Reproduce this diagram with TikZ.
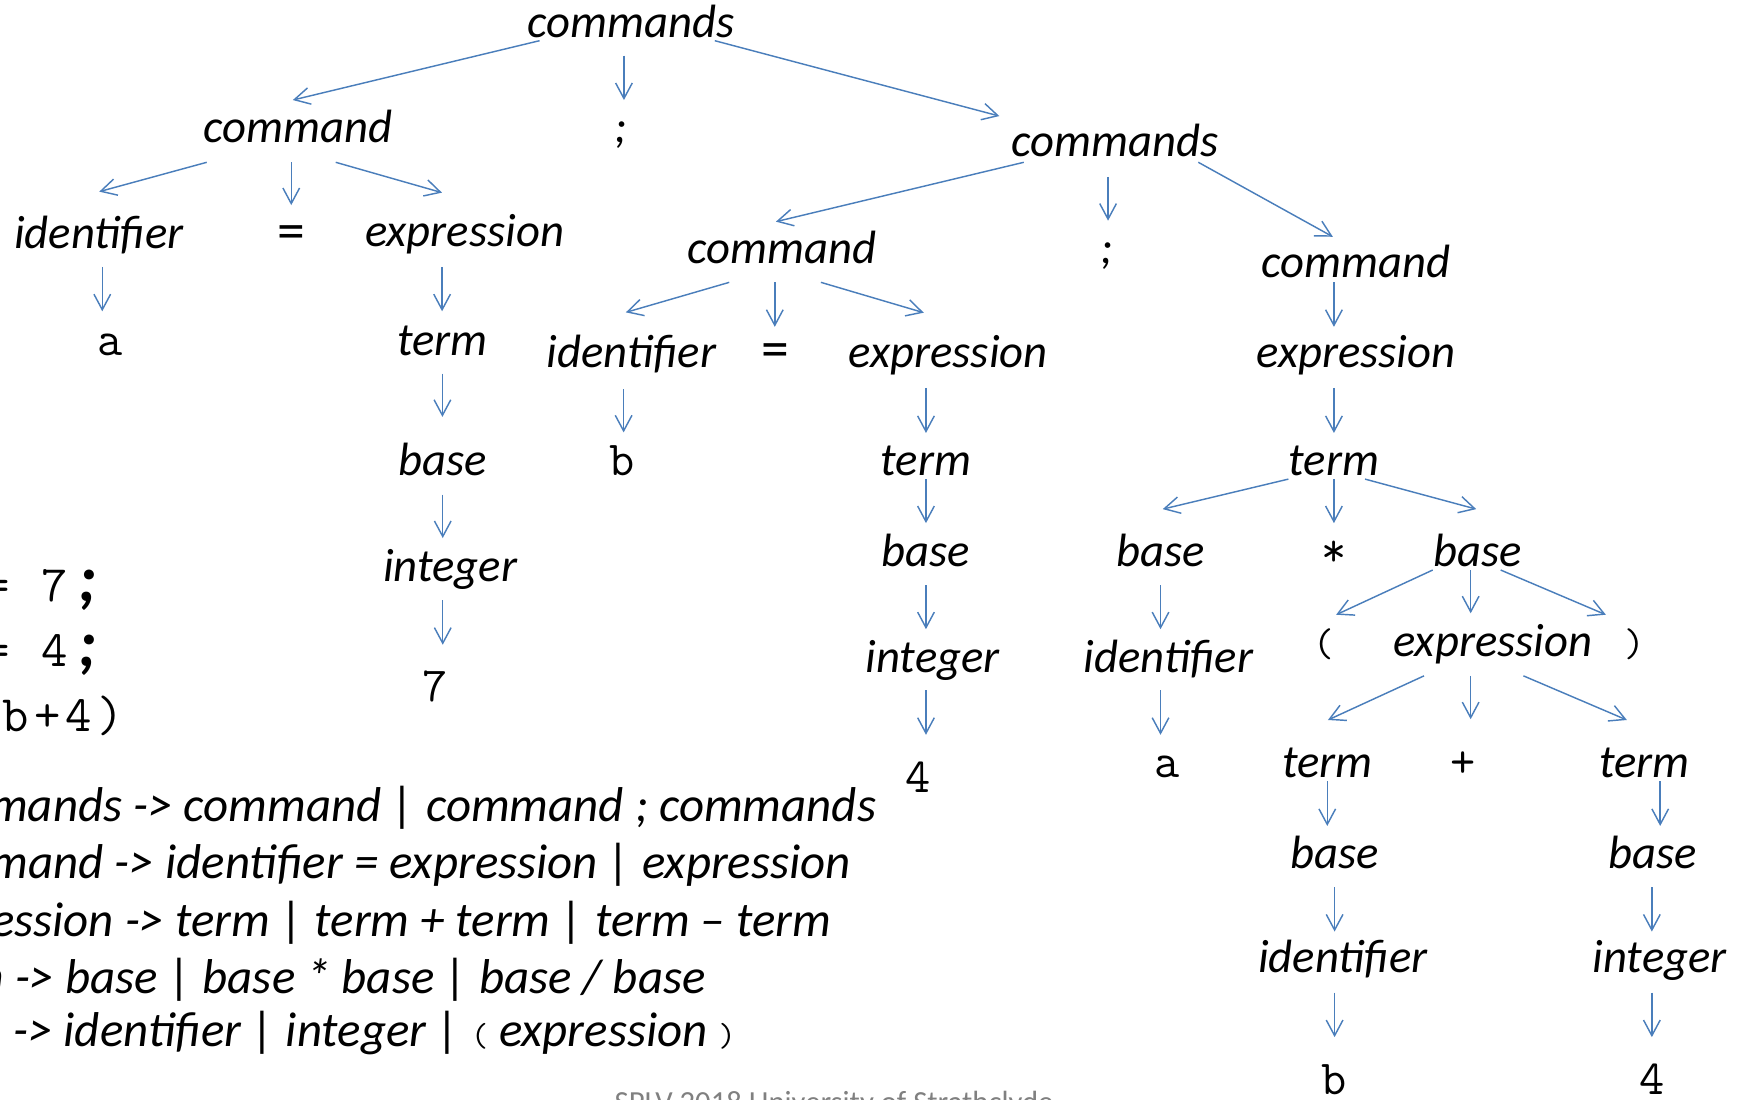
\documentclass[tikz,border=0pt]{standalone}
\usepackage{fontspec}
\setmainfont{Carlito}
\setmonofont{Latin Modern Mono}
\usetikzlibrary{arrows.meta}
\definecolor{arrblue}{RGB}{74,126,187}
\tikzset{
  lbl/.style={inner sep=0pt, outer sep=0pt, anchor=base, font=\fontsize{42}{50}\selectfont\itshape},
  sym/.style={inner sep=0pt, outer sep=0pt, anchor=base, font=\fontsize{50}{56}\selectfont},
  mono/.style={inner sep=0pt, outer sep=0pt, anchor=base, font=\fontsize{44}{50}\selectfont\ttfamily},
  paren/.style={inner sep=0pt, outer sep=0pt, anchor=base, font=\fontsize{36}{40}\selectfont\ttfamily},
  arr/.style={draw=arrblue, line width=1.3pt, -{Straight Barb[length=14pt,width=15pt]}},
  gram/.style={inner sep=0pt, outer sep=0pt, anchor=base west, font=\fontsize{44}{50}\selectfont\itshape},
  code/.style={inner sep=0pt, outer sep=0pt, anchor=base west, font=\fontsize{46}{50}\selectfont\ttfamily\addfontfeature{LetterSpace=10}},
  foot/.style={inner sep=0pt, outer sep=0pt, anchor=base west, font=\fontsize{27.6}{28}\selectfont, text=black!50},
}
\newcommand\link[4]{\draw[arr] ([shift={(#2)}]#1.base) -- ([shift={(#4)}]#3.base);}
\newcommand\gpar[1]{{\upshape\ttfamily\fontsize{30}{30}\selectfont #1}}
\newcommand\csemi{{\rmfamily\bfseries\itshape\fontsize{60}{60}\selectfont\,;}}
\begin{document}
\begin{tikzpicture}[x=1pt,y=-1pt]
\useasboundingbox (0,0) rectangle (1568,989);
\clip (0,0) rectangle (1568,989);
% tree nodes
\node[lbl] (n1) at (568,33.6) {commands};
\node[lbl] (c1) at (268,128) {command};
\node[lbl] (s1) at (558,128) {;};
\node[lbl] (n2) at (1003,141) {commands};
\node[lbl] (id1) at (89,223.5) {identifier};
\node[sym] (eq1) at (262,224) {=};
\node[lbl] (ex1) at (418,222) {expression};
\node[lbl] (c2) at (703.5,237) {command};
\node[lbl] (s2) at (996,237) {;};
\node[lbl] (c3) at (1220,249.5) {command};
\node[mono] (a1) at (98.6,319.5) {a};
\node[lbl] (t1) at (398,319.4) {term};
\node[lbl] (id2) at (568,331) {identifier};
\node[sym] (eq2) at (697.7,330.5) {=};
\node[lbl] (ex2) at (853,331) {expression};
\node[lbl] (ex3) at (1220,331) {expression};
\node[lbl] (b1) at (398.5,428) {base};
\node[mono] (bb) at (560,428) {b};
\node[lbl] (t2) at (833,428) {term};
\node[lbl] (t3) at (1200,428) {term};
\node[lbl] (i1) at (405,523) {integer};
\node[lbl] (b2) at (833,510) {base};
\node[lbl] (b3) at (1044,510) {base};
\node[mono] (st) at (1200,510) {*};
\node[lbl] (b4) at (1329,510) {base};
\node[mono] (v7) at (391,631) {7};
\node[lbl] (i2) at (839,605) {integer};
\node[lbl] (id3) at (1051,605) {identifier};
\node[paren] (lp) at (1191,591) {(};
\node[lbl] (ex4) at (1343,591) {expression};
\node[paren] (rp) at (1470.5,591) {)};
\node[mono] (v4) at (826,713) {4};
\node[mono] (a2) at (1050,699) {a};
\node[lbl] (t4) at (1194,699) {term};
\node[mono] (pl) at (1316.5,699) {+};
\node[lbl] (t5) at (1479.5,699) {term};
\node[lbl] (b5) at (1200.6,781) {base};
\node[lbl] (b6) at (1486.6,781) {base};
\node[lbl] (id4) at (1208,875) {identifier};
\node[lbl] (i3) at (1493,875) {integer};
\node[mono] (bv) at (1200,985) {b};
\node[mono] (v4b) at (1486,985) {4};
% connectors
\link{n1}{-82.6,3}{c1}{-4.6,-38}
\link{n1}{-6.7,16.4}{s1}{3.3,-38}
\link{n1}{75,3}{n2}{-104,-36.6}
\link{c1}{-82,18}{id1}{0.3,-51.1}
\link{c1}{-6,18}{eq1}{0,-39.5}
\link{c1}{34,18}{ex1}{-20.4,-48.7}
\link{id1}{3,16.5}{a1}{-6.6,-39.5}
\link{ex1}{-20.3,18}{t1}{-0.3,-39.4}
\link{t1}{0,16.6}{b1}{-0.5,-53}
\link{b1}{-0.2,17}{i1}{-6.7,-39}
\link{i1}{-6.7,17}{v7}{7.3,-51}
\link{n2}{-82,5}{c2}{-5.5,-37.6}
\link{n2}{-6.2,18}{s2}{0.8,-38.5}
\link{n2}{75,5}{c3}{-21,-36.5}
\link{c2}{-47.5,17}{id2}{-5,-50}
\link{c2}{-6.5,17}{eq2}{-0.7,-36.5}
\link{c2}{35,17}{ex2}{-22,-49.7}
\link{id2}{-7,19}{bb}{1,-39}
\link{ex2}{-20,18}{t2}{0,-38.5}
\link{t2}{0,3}{b2}{0,-39.4}
\link{b2}{0,16.5}{i2}{-6,-39}
\link{i2}{-6,16}{v4}{7,-52}
\link{c3}{-20,4.5}{ex3}{-20,-37}
\link{ex3}{-20,18}{t3}{0,-38.5}
\link{t3}{-41,3}{b3}{2,-52}
\link{t3}{0,3}{st}{0,-39.4}
\link{t3}{28,3}{b4}{-1,-52}
\link{b3}{0,16.5}{id3}{-7,-39}
\link{id3}{-7,16}{a2}{-6,-38}
\link{b4}{-40.2,2.8}{lp}{11,-38}
\link{b4}{-6,2.8}{ex4}{-20,-39.3}
\link{b4}{21,2.8}{rp}{-25.9,-38}
\link{ex4}{-62,17}{t4}{0.6,-51.3}
\link{ex4}{-20,17}{pl}{6.5,-52}
\link{ex4}{27.5,17}{t5}{-16,-51.3}
\link{t4}{0,4}{b5}{-6.6,-38}
\link{t5}{14,4}{b6}{6.9,-38}
\link{b5}{0,17}{id4}{-7.4,-37}
\link{b6}{-0.6,17}{i3}{-7,-37}
\link{id4}{-7.4,18}{bv}{0.6,-52}
\link{i3}{-7,18}{v4b}{0,-52}
% program text (cut at the left edge)
\node[code] (l1) at (37,541) {\llap{a = }7\csemi};
\node[code] (l2) at (37,600) {\llap{b = }4\csemi};
\node[code] (l3) at (2.6,658) {\llap{a*(}b+4)};
% grammar (cut at the left edge)
\node[gram] (g1) at (120,739) {\llap{commands }-> command | command ; commands};
\node[gram] (g2) at (103.5,790) {\llap{command }-> identifier = expression | expression};
\node[gram] (g3) at (112.5,842.6) {\llap{expression }-> term | term + term | term -- term};
\node[gram] (g4) at (13.5,893.5) {\llap{term }-> base | base * base | base / base};
\node[gram] (g5) at (12,941.6) {\llap{base }-> identifier | integer | \gpar{(} expression \gpar{)}};
% footer (cut at the bottom edge)
\node[foot] (ft) at (553,1000.8) {SPLV 2018 University of Strathclyde};
\end{tikzpicture}
\end{document}
